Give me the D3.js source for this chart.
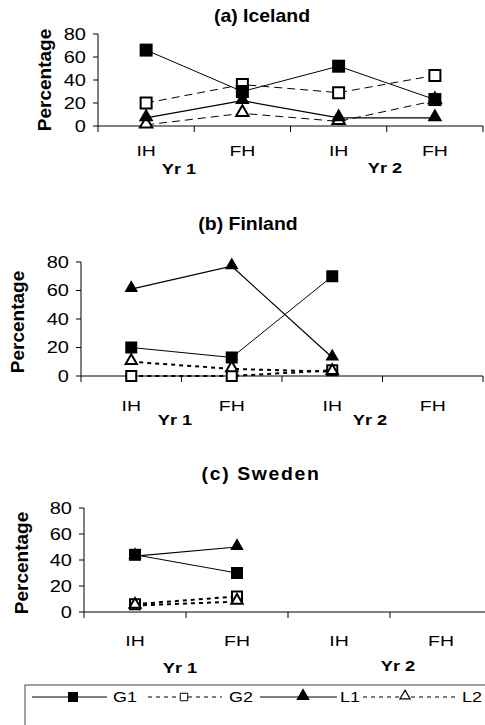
<!DOCTYPE html>
<html><head><meta charset="utf-8">
<script src="https://cdn.jsdelivr.net/npm/d3@7/dist/d3.min.js"></script>
<style>body{margin:0;background:#fff}svg{display:block}text{font-family:"Liberation Sans",Arial,sans-serif;fill:#000}</style>
</head><body>
<script>
// ---- data ----
const categories = ["Yr1-IH", "Yr1-FH", "Yr2-IH", "Yr2-FH"];
const catLabels = ["IH", "FH", "IH", "FH"];
const yearLabels = ["Yr 1", "Yr 2"];
const yTicks = [0, 20, 40, 60, 80];
const seriesNames = ["G1", "G2", "L1", "L2"];
const titles = ["(a) Iceland", "(b) Finland", "(c) Sweden"];
const yAxisTitle = "Percentage";

const icelandG1 = [66, 30, 52, 23];
const icelandG2 = [20, 36, 29, 44];
const icelandL1 = [7, 22, 7, 7];
const icelandL2 = [1, 11, 4, 22];

const finlandG1 = [20, 13, 70, null];
const finlandG2 = [0, 0, 4, null];
const finlandL1 = [61, 77, 13, null];
const finlandL2 = [10, 5, 3, null];

const swedenG1 = [44, 30, null, null];
const swedenG2 = [6, 12, null, null];
const swedenL1 = [43, 50, null, null];
const swedenL2 = [5, 8, null, null];

// ---- layout ----
const W = 485, H = 725;
const svg = d3.select("body").append("svg").attr("width", W).attr("height", H);

function addText(g, x, y, str, o) {
  const t = g.append("g").attr("transform", `translate(${x},${y}) scale(${o.sx || 1},1)`)
    .append("text").text(str)
    .attr("font-size", o.size).attr("font-weight", o.weight || "normal")
    .attr("text-anchor", o.anchor || "middle");
  if (o.dy) t.attr("dy", o.dy);
  if (o.ls) t.attr("letter-spacing", o.ls);
  return t;
}

const panels = [
  { data: [icelandG1, icelandG2, icelandL1, icelandL2], title: titles[0], titleX: 262, titleY: 22, titleLs: 0,
    x0: 98, x1: 483, yTop: 34, yBot: 126, pctX: 51, pctY: 80, catY: 156, yrY: [174, 173], yrX: [179, 385],
    dash: "8,5", dashW: 1, mk: 13 },
  { data: [finlandG1, finlandG2, finlandL1, finlandL2], title: titles[1], titleX: 248, titleY: 230, titleLs: 0,
    x0: 81, x1: 483, yTop: 262, yBot: 376, pctX: 24, pctY: 322, catY: 411, yrY: [425, 425], yrX: [175, 370],
    dash: "4,4", dashW: 2, mk: 12 },
  { data: [swedenG1, swedenG2, swedenL1, swedenL2], title: titles[2], titleX: 261, titleY: 480, titleLs: 1.5,
    x0: 84, x1: 492, yTop: 508, yBot: 612, pctX: 28, pctY: 563, catY: 646, yrY: [673, 671], yrX: [180, 398],
    dash: "4,4", dashW: 2, mk: 12 }
];

const sq = d3.symbol().type(d3.symbolSquare);
const tri = d3.symbol().type(d3.symbolTriangle);

panels.forEach(p => {
  const g = svg.append("g");
  const x = d3.scaleBand().domain(categories).range([p.x0, p.x1]).padding(0);
  const y = d3.scaleLinear().domain([0, 80]).range([p.yBot, p.yTop]);

  addText(g, p.titleX, p.titleY, p.title, { size: 18, weight: "bold", sx: 1.08, ls: p.titleLs });
  g.append("text").text(yAxisTitle).attr("transform", `translate(${p.pctX},${p.pctY}) rotate(-90)`)
    .attr("text-anchor", "middle").attr("font-size", 19).attr("font-weight", "bold");

  // y axis
  g.append("line").attr("x1", p.x0).attr("x2", p.x0).attr("y1", y(80)).attr("y2", y(0)).attr("stroke", "#000");
  yTicks.forEach(v => {
    g.append("line").attr("x1", p.x0 - 5).attr("x2", p.x0).attr("y1", y(v)).attr("y2", y(v)).attr("stroke", "#000");
    addText(g, p.x0 - 12, y(v), String(v), { size: 16, sx: 1.25, anchor: "end", dy: "0.36em" });
  });
  // x axis
  g.append("line").attr("x1", p.x0).attr("x2", p.x1).attr("y1", y(0)).attr("y2", y(0)).attr("stroke", "#000");
  const bounds = categories.map(c => x(c)).concat([p.x1]);
  bounds.forEach(b => {
    g.append("line").attr("x1", b).attr("x2", b).attr("y1", y(0)).attr("y2", y(0) + 6).attr("stroke", "#000");
  });
  categories.forEach((c, i) => {
    addText(g, x(c) + x.bandwidth() / 2, p.catY, catLabels[i], { size: 15, sx: 1.3 });
  });
  yearLabels.forEach((t, i) => addText(g, p.yrX[i], p.yrY[i], t, { size: 14, weight: "bold", sx: 1.3 }));

  const cx = i => x(categories[i]) + x.bandwidth() / 2;
  const line = d3.line().defined(d => d != null).x((d, i) => cx(i)).y(d => y(d));
  const styles = [
    { dash: null, w: 1 }, { dash: p.dash, w: p.dashW }, { dash: null, w: 1.2 }, { dash: p.dash, w: p.dashW }
  ];
  // lines
  [1, 3, 0, 2].forEach(s => {
    g.append("path").attr("d", line(p.data[s])).attr("fill", "none").attr("stroke", "#000")
      .attr("stroke-width", styles[s].w).attr("stroke-dasharray", styles[s].dash);
  });
  // markers (order: G2, L2, G1, L1)
  const m = p.mk;
  [1, 3, 0, 2].forEach(s => {
    p.data[s].forEach((v, i) => {
      if (v == null) return;
      const t = `translate(${cx(i)},${y(v)})`;
      if (s === 0) g.append("path").attr("d", sq.size(m * m)()).attr("transform", t).attr("fill", "#000");
      if (s === 1) g.append("path").attr("d", sq.size((m - 2) * (m - 2))()).attr("transform", t)
        .attr("fill", "#fff").attr("stroke", "#000").attr("stroke-width", 2);
      if (s === 2) g.append("path").attr("d", tri.size(m * m * 0.55)()).attr("transform", t + " translate(0,-1)").attr("fill", "#000");
      if (s === 3) g.append("path").attr("d", tri.size((m - 2) * (m - 2) * 0.55)()).attr("transform", t + " translate(0,-1)")
        .attr("fill", "#fff").attr("stroke", "#000").attr("stroke-width", 2);
    });
  });
});

// ---- legend ----
const lg = svg.append("g");
lg.append("rect").attr("x", 25).attr("y", 685).attr("width", 470).attr("height", 50)
  .attr("fill", "#fff").attr("stroke", "#444").attr("stroke-width", 1);
const ly = 697;
const legendItems = [
  { x1: 32, x2: 107, mx: 73, tx: 113, dash: null },
  { x1: 148, x2: 222, mx: 184, tx: 229, dash: "4,4" },
  { x1: 260, x2: 337, mx: 303, tx: 340, dash: null },
  { x1: 363, x2: 455, mx: 405, tx: 462, dash: "4,4" }
];
legendItems.forEach((it, s) => {
  lg.append("line").attr("x1", it.x1).attr("x2", it.x2).attr("y1", ly).attr("y2", ly)
    .attr("stroke", "#000").attr("stroke-width", 1).attr("stroke-dasharray", it.dash);
  const t = `translate(${it.mx},${ly})`;
  if (s === 0) lg.append("path").attr("d", sq.size(100)()).attr("transform", t).attr("fill", "#000");
  if (s === 1) lg.append("path").attr("d", sq.size(56)()).attr("transform", t).attr("fill", "#fff").attr("stroke", "#000").attr("stroke-width", 1);
  if (s === 2) lg.append("path").attr("d", tri.size(80)()).attr("transform", t + " translate(0,-1)").attr("fill", "#000");
  if (s === 3) lg.append("path").attr("d", tri.size(45)()).attr("transform", t + " translate(0,-1)").attr("fill", "#fff").attr("stroke", "#000").attr("stroke-width", 1.2);
  addText(lg, it.tx, ly, seriesNames[s], { size: 15, sx: 1.2, anchor: "start", dy: "0.36em" });
});
</script>
</body></html>
